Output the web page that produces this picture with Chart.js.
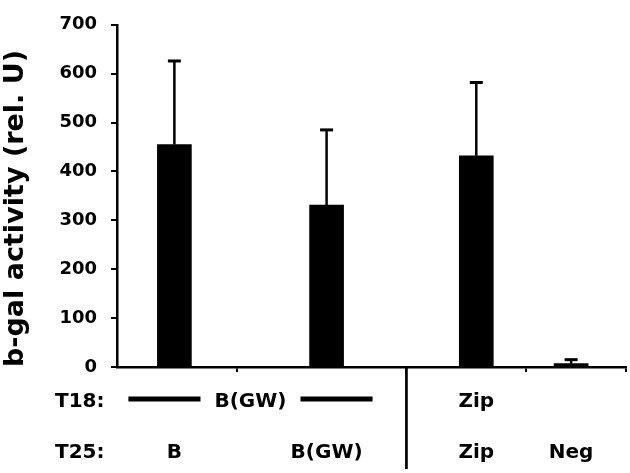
<!DOCTYPE html>
<html>
<head>
<meta charset="utf-8">
<script src="https://cdn.jsdelivr.net/npm/chart.js@4.4.1/dist/chart.umd.min.js"></script>
<style>
  html, body { margin: 0; padding: 0; background: #fff; }
  canvas { display: block; }
</style>
</head>
<body>
<canvas id="chart" width="630" height="473"></canvas>
<script>
// Chart data
const t25Labels = ['B', 'B(GW)', 'Zip', 'Neg'];
const t18Labels = ['B(GW)', 'B(GW)', 'Zip', ''];
const activity = [455, 331, 432, 7];
const activityErr = [171, 154, 150, 8];
// group positions along the x axis (the groups are not evenly spaced)
const groupPos = [1.15, 4.2, 7.2, 9.1];
const xTickPos = [2.4, 5.8, 8.2, 10.2];
const separatorPos = 5.8;
const yTicks = [0, 100, 200, 300, 400, 500, 600, 700];

const FONT = 'DejaVu Sans';

// Error bars (upper half only, with cap)
const errorBars = {
    id: 'errorBars',
    afterDatasetsDraw(chart) {
        const ctx = chart.ctx;
        const y = chart.scales.y;
        const meta = chart.getDatasetMeta(0);
        ctx.save();
        ctx.strokeStyle = '#000';
        meta.data.forEach(function(bar, i) {
            const top = y.getPixelForValue(activity[i] + activityErr[i]);
            ctx.lineWidth = 2.5;
            ctx.beginPath();
            ctx.moveTo(bar.x, bar.y);
            ctx.lineTo(bar.x, top);
            ctx.stroke();
            ctx.lineWidth = 3;
            ctx.beginPath();
            ctx.moveTo(bar.x - 6.5, top);
            ctx.lineTo(bar.x + 6.5, top);
            ctx.stroke();
        });
        ctx.restore();
    }
};

// Two rows of construct labels below the axis
const constructLabels = {
    id: 'constructLabels',
    afterDraw(chart) {
        const ctx = chart.ctx;
        const x = chart.scales.x;
        const area = chart.chartArea;
        ctx.save();
        ctx.fillStyle = '#000';
        ctx.strokeStyle = '#000';
        ctx.font = 'bold 20px "' + FONT + '"';
        ctx.textBaseline = 'alphabetic';

        const row18 = 407, row25 = 458;
        ctx.textAlign = 'left';
        ctx.fillText('T18:', 55, row18);
        ctx.fillText('T25:', 55, row25);

        ctx.textAlign = 'center';
        t25Labels.forEach(function(lbl, i) {
            ctx.fillText(lbl, x.getPixelForValue(groupPos[i]), row25);
        });

        // merge neighbouring equal T18 labels into one span with lines
        let i = 0;
        while (i < t18Labels.length) {
            let j = i;
            while (j + 1 < t18Labels.length && t18Labels[j + 1] === t18Labels[i]) j++;
            if (t18Labels[i]) {
                const x0 = x.getPixelForValue(groupPos[i]);
                const x1 = x.getPixelForValue(groupPos[j]);
                const mid = (x0 + x1) / 2;
                ctx.fillText(t18Labels[i], mid, row18);
                if (j > i) {
                    const half = ctx.measureText(t18Labels[i]).width / 2;
                    ctx.lineWidth = 5;
                    ctx.beginPath();
                    ctx.moveTo(x0 - 46, row18 - 8);
                    ctx.lineTo(mid - half - 14, row18 - 8);
                    ctx.moveTo(mid + half + 14, row18 - 8);
                    ctx.lineTo(x1 + 46, row18 - 8);
                    ctx.stroke();
                }
            }
            i = j + 1;
        }

        // vertical separator between the groups
        const sx = x.getPixelForValue(separatorPos);
        ctx.lineWidth = 2.7;
        ctx.beginPath();
        ctx.moveTo(sx, area.bottom);
        ctx.lineTo(sx, 469);
        ctx.stroke();
        ctx.restore();
    }
};

const ctx = document.getElementById('chart').getContext('2d');
new Chart(ctx, {
    type: 'bar',
    data: {
        datasets: [{
            data: groupPos.map(function(p, i) { return {x: p, y: activity[i]}; }),
            backgroundColor: '#000',
            borderWidth: 0,
            barThickness: 34
        }]
    },
    options: {
        responsive: false,
        animation: false,
        layout: { padding: { top: 13, right: 4, bottom: 0, left: 0 } },
        plugins: {
            legend: { display: false },
            tooltip: { enabled: false }
        },
        scales: {
            x: {
                type: 'linear',
                min: 0,
                max: 10.2,
                offset: false,
                afterBuildTicks: function(scale) {
                    scale.ticks = xTickPos.map(function(v) { return {value: v}; });
                },
                afterFit: function(scale) { scale.height = 106; },
                ticks: { display: false },
                grid: {
                    drawOnChartArea: false,
                    drawTicks: true,
                    tickLength: 5,
                    offset: false,
                    color: '#000',
                    lineWidth: 2
                },
                border: { display: true, color: '#000', width: 2.5 }
            },
            y: {
                min: 0,
                max: 700,
                afterBuildTicks: function(scale) {
                    scale.ticks = yTicks.map(function(v) { return {value: v}; });
                },
                afterFit: function(scale) { scale.width = 117; },
                ticks: {
                    color: '#000',
                    padding: 14,
                    font: { family: FONT, size: 18, weight: 'bold' }
                },
                grid: {
                    drawOnChartArea: false,
                    drawTicks: true,
                    tickLength: 6,
                    color: '#000',
                    lineWidth: 2
                },
                border: { display: true, color: '#000', width: 2.5 },
                title: {
                    display: true,
                    text: 'b-gal activity (rel. U)',
                    align: 'start',
                    color: '#000',
                    padding: 0,
                    font: { family: FONT, size: 27, weight: 'bold' }
                }
            }
        }
    },
    plugins: [errorBars, constructLabels]
});
</script>
</body>
</html>
